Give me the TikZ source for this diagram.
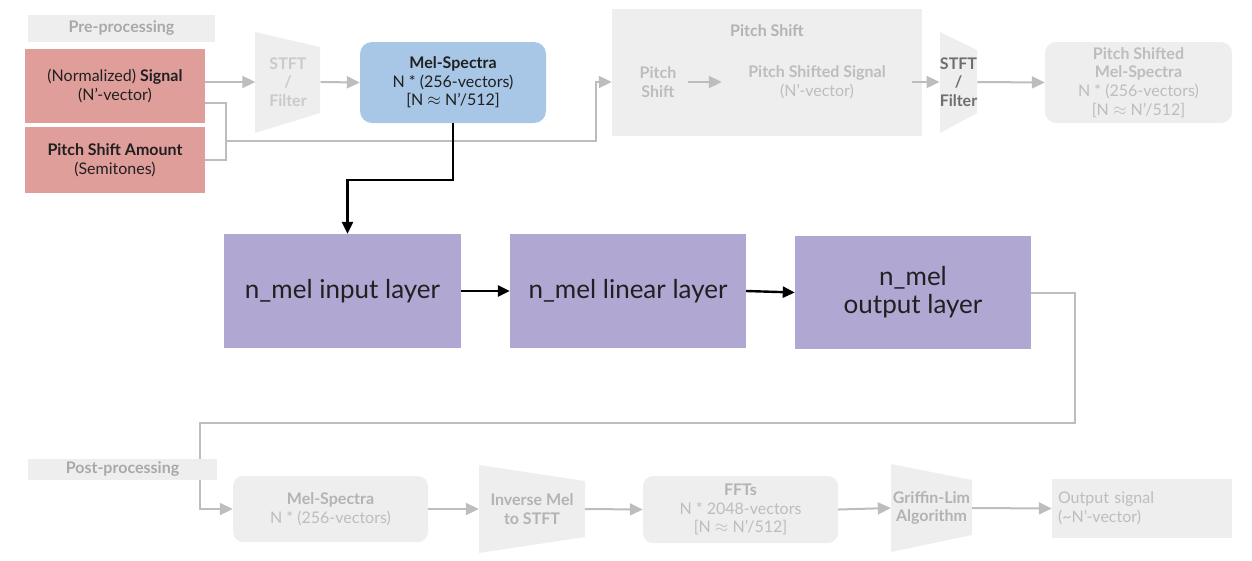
\documentclass[tikz,border=0pt]{standalone}
\usepackage{fontspec}
\setmainfont{Lato}
\usetikzlibrary{arrows.meta}
\definecolor{lightfill}{HTML}{EEEEEE}
\definecolor{cgray}{HTML}{BDBDBD}
\definecolor{fadetext}{HTML}{BDBDBD}
\definecolor{fadebold}{HTML}{B3B3B3}
\definecolor{labeltext}{HTML}{A9A9A9}
\definecolor{darkfade}{HTML}{6E6E6E}
\definecolor{pinkfill}{HTML}{E09E9B}
\definecolor{bluefill}{HTML}{A8C6E5}
\definecolor{purplefill}{HTML}{B1A7D3}
\definecolor{txt}{HTML}{202020}
\tikzset{
  conn/.style={draw=cgray, line width=2pt},
  garrow/.style={conn, -{Triangle[length=13pt,width=12pt]}},
  barrow/.style={draw=black, line width=2.4pt, -{Triangle[length=12pt,width=11pt]}},
  small/.style={font=\fontsize{16}{18.7}\selectfont},
  lbl/.style={fill=lightfill, text=labeltext, inner sep=0pt, font=\bfseries\fontsize{16}{18}\selectfont},
  inbox/.style={fill=pinkfill, text=txt, align=center, inner sep=0pt, small},
  fadebox/.style={fill=lightfill, rounded corners=11pt, text=fadetext, align=center, inner sep=0pt, small},
  trap/.style={fill=lightfill},
  traptext/.style={text=fadebold, align=center, inner sep=0pt, small},
  layer/.style={fill=purplefill, text=txt, align=center, inner sep=0pt, font=\fontsize{26}{28}\selectfont},
}
\begin{document}
\begin{tikzpicture}[x=1pt,y=-1pt]
\useasboundingbox (0,0) rectangle (1252,560);

% ---------- Pre-processing ----------
\node[lbl, minimum width=187, minimum height=27] (prelbl) at (121.5,28.5) {Pre-processing};
\node[inbox, minimum width=180, minimum height=74] (signal) at (115,86)
  {(Normalized) \textbf{Signal}\\(N’-vector)};
\node[inbox, minimum width=180, minimum height=66] (amount) at (115,160)
  {\textbf{Pitch Shift Amount}\\(Semitones)};

\fill[trap] (255,32) -- (320,47) -- (320,113) -- (255,133) -- cycle;
\node[traptext, text=fadetext!80!white, minimum width=65] (stft1) at (288,82) {\textbf{STFT}\\\textbf{/}\\\textbf{Filter}};

\node[fill=bluefill, rounded corners=12pt, text=txt, align=center, inner sep=0pt, small,
  minimum width=186, minimum height=81] (mel) at (453,82.5)
  {\textbf{Mel-Spectra}\\N * (256-vectors)\\{[}N $\approx$ N’/512{]}};

% ---------- Pitch shift ----------
\node[fill=lightfill, minimum width=310, minimum height=127, inner sep=0pt] (psbox) at (767,72.5) {};
\node[text=fadebold, font=\bfseries\fontsize{16}{18.7}\selectfont] (pstitle) at (767,31) {Pitch Shift};
\node[traptext, text=fadetext, minimum width=60] (psh) at (658,82) {\textbf{Pitch}\\\textbf{Shift}};
\node[traptext, text=fadetext, minimum width=190] (pss) at (817,82) {\textbf{Pitch Shifted Signal}\\(N’-vector)};

\fill[trap] (940,32) -- (977,50) -- (977,113) -- (940,133) -- cycle;
\node[traptext, text=darkfade, minimum width=37] (stft2) at (958.5,82) {\textbf{STFT}\\\textbf{/}\\\textbf{Filter}};

\node[fadebox, minimum width=187, minimum height=81] (psmel) at (1138.5,82.5)
  {\textbf{Pitch Shifted}\\\textbf{Mel-Spectra}\\N * (256-vectors)\\{[}N $\approx$ N’/512{]}};

% ---------- Layers ----------
\node[layer, minimum width=237, minimum height=114] (inl) at (342.5,291) {n\_mel input layer};
\node[layer, minimum width=236, minimum height=114] (linl) at (628,291) {n\_mel linear layer};
\node[layer, minimum width=236, minimum height=113] (outl) at (913,292.5) {n\_mel\\output layer};

% ---------- Post-processing ----------
\node[fadebox, rounded corners=10pt, minimum width=195, minimum height=66] (melp) at (330.5,509)
  {\textbf{\color{fadebold}Mel-Spectra}\\N * (256-vectors)};
\fill[trap] (479,465) -- (585,481) -- (585,537) -- (479,553) -- cycle;
\node[traptext, minimum width=106] (imel) at (532,509) {\textbf{Inverse Mel}\\\textbf{to STFT}};
\node[fadebox, rounded corners=10pt, minimum width=195, minimum height=67] (fft) at (740.5,509.5)
  {\textbf{\color{fadebold}FFTs}\\N * 2048-vectors\\{[}N $\approx$ N’/512{]}};
\fill[trap] (891,464) -- (972,480) -- (972,535) -- (891,552) -- cycle;
\node[traptext, minimum width=81] (gl) at (931.5,508) {\textbf{Griffin-Lim}\\\textbf{Algorithm}};
\node[fill=lightfill, text=fadetext, align=left, inner sep=0pt, small, minimum width=180, minimum height=59,
  text width=168] (outsig) at (1142,508.5) {Output signal\\(\textasciitilde N’-vector)};

% ---------- Connectors ----------
\draw[garrow] (signal.east |- stft1) -- (stft1.west);
\draw[garrow] (stft1.east) -- (mel.west);
\draw[conn] (signal.east |- 0,103) -- (226,103) -- (226,141);
\draw[garrow] (amount.east) -- (226,160) -- (226,141) -- (596,141) -- (596,82) -- (psbox.west |- psh);
\draw[garrow] (psh.east) -- (pss.west);
\draw[garrow] (pss.east) -- (stft2.west);
\draw[garrow] (stft2.east) -- (psmel.west);

\draw[barrow] (mel.south) -- (mel.south |- 0,180) -| ([xshift=5pt]inl.north);
\draw[barrow] (inl.east) -- (linl.west);
\draw[barrow] (linl.east) -- (outl.west);

\draw[garrow] (outl.east) -- (1075,292.5) -- (1075,423) -- (200,423) |- (melp.west);
\draw[garrow] (melp.east) -- (imel.west);
\draw[garrow] (imel.east) -- (fft.west);
\draw[garrow] (fft.east) -- (gl.west);
\draw[garrow] (gl.east) -- (outsig.west);

\node[lbl, minimum width=189, minimum height=21] (postlbl) at (122.5,469.5) {Post-processing};
\end{tikzpicture}
\end{document}
